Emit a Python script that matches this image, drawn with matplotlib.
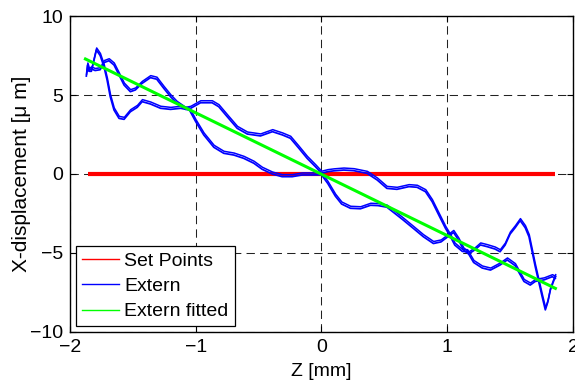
import numpy as np
import matplotlib
matplotlib.use("Agg")
import matplotlib.pyplot as plt
from matplotlib import transforms
from matplotlib.lines import Line2D

plt.rcParams['font.family'] = ['Liberation Sans', 'DejaVu Sans']

# set points (straight line at zero)
set_z = [-1.86, 1.86]
set_x = [0.0, 0.0]

# measured trace, first pass (left peak route, steep middle route, spiky right end)
ext_a_z = [-1.87, -1.86, -1.845, -1.83, -1.815, -1.79, -1.76, -1.73, -1.705, -1.68,
           -1.65, -1.61, -1.57, -1.52, -1.465, -1.426, -1.36, -1.28, -1.20, -1.12,
           -1.05, -1.0, -0.936, -0.856, -0.777, -0.697, -0.618, -0.538, -0.472, -0.392,
           -0.313, -0.233, -0.153, -0.074, 0.0, 0.05, 0.11, 0.16, 0.23, 0.31,
           0.39, 0.45, 0.52, 0.64, 0.73, 0.81, 0.89, 0.95, 1.0, 1.05,
           1.09, 1.13, 1.17, 1.22, 1.264, 1.318, 1.38, 1.42, 1.46, 1.50,
           1.54, 1.58, 1.62, 1.65, 1.70, 1.755, 1.78, 1.80, 1.82, 1.845,
           1.86]
ext_a_x = [6.2, 6.9, 6.5, 6.5, 7.0, 7.85, 7.5, 6.8, 5.95, 4.9,
           4.05, 3.52, 3.46, 3.94, 4.22, 4.58, 4.43, 4.16, 4.09, 4.16,
           4.05, 3.31, 2.47, 1.69, 1.31, 1.2, 0.99, 0.68, 0.3, 0.0,
           -0.17, -0.17, -0.06, -0.06, -0.05, -0.6, -1.4, -1.9, -2.17, -2.2,
           -1.98, -2.0, -2.1, -2.85, -3.44, -3.97, -4.4, -4.3, -4.0, -3.7,
           -4.18, -4.81, -5.06, -4.8, -4.49, -4.6, -4.75, -4.92, -4.5, -3.8,
           -3.4, -2.95, -3.4, -3.97, -5.87, -7.77, -8.6, -8.1, -7.34, -6.8,
           -6.5]

# measured trace, second pass (left double hump, upper middle route, lower right end)
ext_b_z = [-1.86, -1.83, -1.80, -1.76, -1.73, -1.69, -1.65, -1.61, -1.57, -1.52,
           -1.48, -1.426, -1.36, -1.31, -1.254, -1.20, -1.15, -1.08, -1.04, -0.962,
           -0.87, -0.817, -0.75, -0.67, -0.59, -0.485, -0.39, -0.31, -0.247, -0.18,
           -0.114, -0.048, 0.0, 0.05, 0.10, 0.177, 0.257, 0.363, 0.443, 0.52,
           0.60, 0.695, 0.76, 0.827, 0.88, 0.933, 0.986, 1.026, 1.06, 1.12,
           1.16, 1.21, 1.278, 1.344, 1.42, 1.477, 1.54, 1.61, 1.66, 1.70,
           1.77, 1.835, 1.86]
ext_b_x = [6.5, 6.65, 6.55, 6.6, 7.05, 7.17, 6.9, 6.27, 5.63, 5.21,
           5.32, 5.74, 6.1, 6.0, 5.42, 4.89, 4.47, 4.09, 4.16, 4.51,
           4.51, 4.26, 3.63, 2.89, 2.53, 2.41, 2.68, 2.47, 2.26, 1.63,
           0.99, 0.46, 0.05, 0.15, 0.2, 0.25, 0.21, 0.04, -0.38, -0.91,
           -0.97, -0.8, -0.84, -1.12, -1.75, -2.6, -3.44, -3.97, -4.5, -4.9,
           -4.92, -5.6, -5.95, -6.08, -5.76, -5.44, -5.8, -6.8, -7.03, -6.8,
           -6.7, -6.5, -6.6]

# linear fit of the extern data (end points)
fit_z = [-1.877, 1.86]
fit_x = [7.28, -7.24]

fig = plt.figure(figsize=(5.75, 3.83), dpi=100)
ax = fig.add_axes([0.1217, 0.1332, 0.8748, 0.8250])

ax.plot(set_z, set_x, color='#ff0000', lw=3.0, solid_capstyle='butt')

# every pass was recorded more than once, draw a shifted copy for the doubled look
shifted = transforms.offset_copy(ax.transData, fig=fig, x=0.3, y=2.0, units='dots')
for z, xd in [(ext_a_z, ext_a_x), (ext_b_z, ext_b_x)]:
    ax.plot(z, xd, color='#0000ff', lw=1.25)
    ax.plot(z, xd, color='#0000ff', lw=1.1, transform=shifted)

ax.plot(fit_z, fit_x, color='#00ff00', lw=2.2)

ax.set_xlim(-2, 2)
ax.set_ylim(-10, 10)
ax.set_xticks([-2, -1, 0, 1, 2])
ax.set_yticks([-10, -5, 0, 5, 10])
ax.grid(True, color='#222222', lw=0.75, linestyle=(0, (8, 5)))
ax.tick_params(direction='in', length=4, width=0.8, top=True, right=True,
               labelsize=14, pad=5, colors='black')
for s in ax.spines.values():
    s.set_linewidth(1.0)
    s.set_color('black')

ax.set_xlabel('Z [mm]', fontsize=14, labelpad=5)
ax.set_ylabel('X-displacement [\u03bc m]', fontsize=15, labelpad=-1)

handles = [Line2D([], [], color='#ff0000', lw=1.0),
           Line2D([], [], color='#0000ff', lw=1.0),
           Line2D([], [], color='#00ff00', lw=1.0)]
leg = ax.legend(handles, ['Set Points', 'Extern', 'Extern fitted'],
                loc='lower left', fontsize=14, fancybox=False, framealpha=1,
                edgecolor='black', handlelength=1.9, handletextpad=0.3,
                labelspacing=0.4, borderpad=0.3, borderaxespad=0.3)
leg.get_frame().set_linewidth(0.9)

fig.savefig('out.png', dpi=100)
